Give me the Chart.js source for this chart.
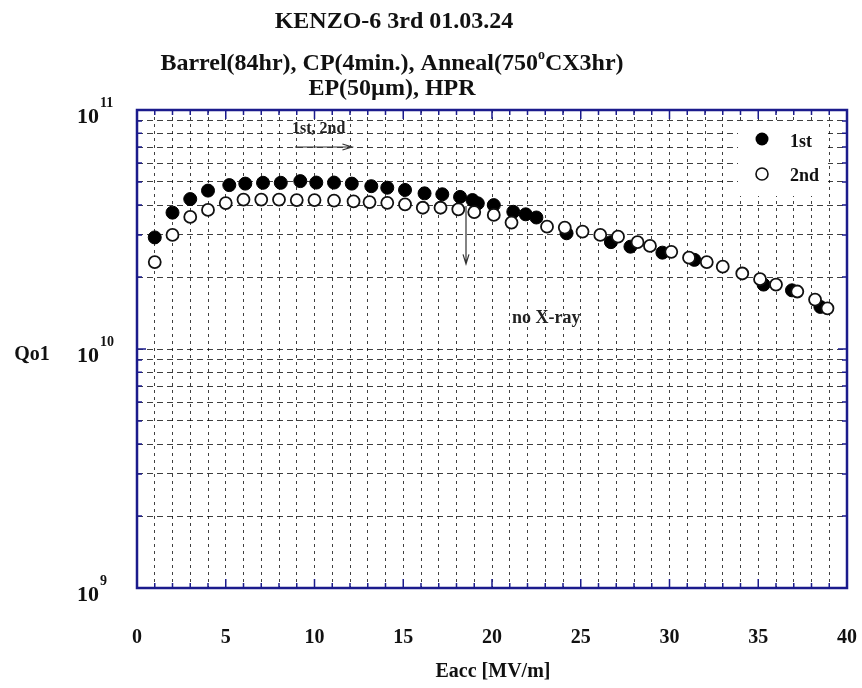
<!DOCTYPE html>
<html>
<head>
<meta charset="utf-8">
<script src="https://cdn.jsdelivr.net/npm/chart.js@4.4.1/dist/chart.umd.min.js"></script>
<style>
  html, body { margin: 0; padding: 0; background: #fff; }
  #wrap { width: 862px; height: 688px; }
</style>
</head>
<body>
<div id="wrap"><canvas id="qChart" width="862" height="688"></canvas></div>
<script>
// 1st test (filled)
const eacc1st = [1, 2, 3, 4, 5.2, 6.1, 7.1, 8.1, 9.2, 10.1, 11.1, 12.1, 13.2, 14.1, 15.1, 16.2, 17.2, 18.2, 18.9, 19.2,
  20.1, 21.2, 21.9, 22.5, 24.2, 26.7, 27.8, 29.6, 31.4, 35.3, 36.9, 38.5];
const q1st = [2.93e10, 3.72e10, 4.24e10, 4.6e10, 4.85e10, 4.92e10, 4.96e10, 4.96e10, 5.04e10, 4.97e10, 4.97e10, 4.92e10,
  4.8e10, 4.73e10, 4.63e10, 4.48e10, 4.44e10, 4.33e10, 4.2e10, 4.07e10,
  4.0e10, 3.75e10, 3.66e10, 3.55e10, 3.05e10, 2.8e10, 2.68e10, 2.53e10, 2.36e10, 1.86e10, 1.76e10, 1.5e10];

// 2nd test (open)
const eacc2nd = [1, 2, 3, 4, 5, 6, 7, 8, 9, 10, 11.1, 12.2, 13.1, 14.1, 15.1, 16.1, 17.1, 18.1, 19.0,
  20.1, 21.1, 23.1, 24.1, 25.1, 26.1, 27.1, 28.2, 28.9, 30.1, 31.1, 32.1, 33.0, 34.1, 35.1, 36.0, 37.2, 38.2, 38.9];
const q2nd = [2.31e10, 3.0e10, 3.57e10, 3.82e10, 4.08e10, 4.22e10, 4.22e10, 4.22e10, 4.2e10, 4.2e10, 4.18e10, 4.15e10,
  4.12e10, 4.09e10, 4.03e10, 3.9e10, 3.9e10, 3.84e10, 3.74e10,
  3.64e10, 3.38e10, 3.25e10, 3.22e10, 3.1e10, 3.0e10, 2.95e10, 2.8e10, 2.7e10, 2.55e10, 2.41e10, 2.31e10, 2.21e10,
  2.07e10, 1.96e10, 1.86e10, 1.74e10, 1.61e10, 1.48e10];

const xTickLabels = [0, 5, 10, 15, 20, 25, 30, 35, 40];
const yDecades = [1e9, 1e10, 1e11];
const yDecadeExp = ['9', '10', '11'];
const yMinorSteps = [1, 2, 3, 4, 5, 6, 7, 8, 9];

const serif = '"Liberation Serif", "DejaVu Serif", serif';
const frameColor = '#1b1b8c';

// all log grid values 1e9 ... 1e11
const yGridValues = [];
yDecades.slice(0, 2).forEach(d => yMinorSteps.forEach(s => yGridValues.push(d * s)));
yGridValues.push(1e11);

function toPoints(xs, ys) {
  return xs.map((x, i) => ({ x: x, y: ys[i] }));
}

// draw a line of text runs, some raised as superscript
function drawRuns(ctx, runs, cx, y, size) {
  let total = 0;
  runs.forEach(r => {
    ctx.font = `bold ${r.sup ? Math.round(size * 0.6) : size}px ${serif}`;
    r.w = ctx.measureText(r.t).width;
    total += r.w;
  });
  let x = cx - total / 2;
  ctx.textAlign = 'left';
  ctx.textBaseline = 'alphabetic';
  runs.forEach(r => {
    ctx.font = `bold ${r.sup ? Math.round(size * 0.6) : size}px ${serif}`;
    ctx.fillText(r.t, x, r.sup ? y - size * 0.45 : y);
    x += r.w;
  });
}

function arrow(ctx, x1, y1, x2, y2) {
  const a = Math.atan2(y2 - y1, x2 - x1);
  const len = 10, spread = 0.3;
  ctx.beginPath();
  ctx.moveTo(x1, y1);
  ctx.lineTo(x2, y2);
  ctx.moveTo(x2 - len * Math.cos(a - spread), y2 - len * Math.sin(a - spread));
  ctx.lineTo(x2, y2);
  ctx.lineTo(x2 - len * Math.cos(a + spread), y2 - len * Math.sin(a + spread));
  ctx.stroke();
}

const decorPlugin = {
  id: 'decor',
  afterDraw(chart) {
    const ctx = chart.ctx;
    const area = chart.chartArea;
    const xs = chart.scales.x;
    const ys = chart.scales.y;
    ctx.save();

    // legend box
    ctx.fillStyle = '#fff';
    ctx.fillRect(738, 124, 90, 72);
    ctx.fillStyle = '#000';
    ctx.beginPath();
    ctx.arc(762, 139, 6.5, 0, Math.PI * 2);
    ctx.fill();
    ctx.beginPath();
    ctx.arc(762, 174, 6, 0, Math.PI * 2);
    ctx.fillStyle = '#fff';
    ctx.fill();
    ctx.lineWidth = 1.6;
    ctx.strokeStyle = '#111';
    ctx.stroke();
    ctx.fillStyle = '#111';
    ctx.font = `bold 18px ${serif}`;
    ctx.textAlign = 'left';
    ctx.textBaseline = 'middle';
    ctx.fillText('1st', 790, 142);
    ctx.fillText('2nd', 790, 176);

    // frame
    ctx.strokeStyle = frameColor;
    ctx.lineWidth = 2.5;
    ctx.strokeRect(area.left, area.top, area.right - area.left, area.bottom - area.top);

    // inner ticks
    ctx.lineWidth = 1.5;
    ctx.beginPath();
    for (let v = 1; v < 40; v++) {
      const px = xs.getPixelForValue(v);
      const len = v % 5 === 0 ? 9 : 5;
      ctx.moveTo(px, area.bottom);
      ctx.lineTo(px, area.bottom - len);
      ctx.moveTo(px, area.top);
      ctx.lineTo(px, area.top + len);
    }
    yGridValues.forEach(v => {
      const py = ys.getPixelForValue(v);
      const len = yDecades.includes(v) ? 9 : 5;
      ctx.moveTo(area.left, py);
      ctx.lineTo(area.left + len, py);
      ctx.moveTo(area.right, py);
      ctx.lineTo(area.right - len, py);
    });
    ctx.stroke();

    ctx.fillStyle = '#111';
    // x tick labels
    ctx.font = `bold 20px ${serif}`;
    ctx.textAlign = 'center';
    ctx.textBaseline = 'middle';
    xTickLabels.forEach(v => {
      ctx.fillText(String(v), xs.getPixelForValue(v), area.bottom + 50);
    });

    // y decade labels 10^n
    yDecades.forEach((v, i) => {
      const py = ys.getPixelForValue(v);
      ctx.textAlign = 'left';
      ctx.textBaseline = 'alphabetic';
      ctx.font = `bold 22px ${serif}`;
      const bw = ctx.measureText('10').width;
      ctx.fillText('10', 99 - bw, py + 13);
      ctx.font = `bold 14px ${serif}`;
      ctx.fillText(yDecadeExp[i], 100, py - 3);
    });

    // axis titles
    ctx.font = `bold 20px ${serif}`;
    ctx.textAlign = 'center';
    ctx.textBaseline = 'middle';
    ctx.fillText('Eacc [MV/m]', 493, 672);
    ctx.fillText('Qo1', 32, 355);

    // titles
    drawRuns(ctx, [{ t: 'KENZO-6 3rd 01.03.24' }], 394, 28, 24);
    drawRuns(ctx, [{ t: 'Barrel(84hr), CP(4min.), Anneal(750' }, { t: 'o', sup: true }, { t: 'CX3hr)' }], 392, 70, 24);
    drawRuns(ctx, [{ t: 'EP(50\u00b5m), HPR' }], 392, 95, 24);

    // annotations
    ctx.strokeStyle = '#333';
    ctx.lineWidth = 1.2;
    arrow(ctx, 295, 147, 352, 147);
    arrow(ctx, 466, 206, 466, 264);
    ctx.fillStyle = '#222';
    ctx.font = `bold 16px ${serif}`;
    ctx.textAlign = 'left';
    ctx.textBaseline = 'middle';
    ctx.fillText('1st, 2nd', 292, 129);
    ctx.font = `bold 18px ${serif}`;
    ctx.fillText('no X-ray', 512, 318);

    ctx.restore();
  }
};

const ctx = document.getElementById('qChart').getContext('2d');
const qChart = new Chart(ctx, {
  type: 'scatter',
  data: {
    datasets: [
      {
        label: '1st',
        data: toPoints(eacc1st, q1st),
        pointStyle: 'circle',
        pointRadius: 6.5,
        backgroundColor: '#000',
        borderColor: '#000',
        borderWidth: 1,
        order: 2,
      },
      {
        label: '2nd',
        data: toPoints(eacc2nd, q2nd),
        pointStyle: 'circle',
        pointRadius: 6,
        backgroundColor: '#fff',
        borderColor: '#111',
        borderWidth: 1.8,
        order: 1,
      },
    ],
  },
  options: {
    responsive: false,
    animation: false,
    events: [],
    layout: { padding: { left: 137, right: 15, top: 110, bottom: 100 } },
    plugins: {
      legend: { display: false },
      tooltip: { enabled: false },
    },
    scales: {
      x: {
        type: 'linear',
        min: 0,
        max: 40,
        ticks: { stepSize: 1, display: false },
        grid: { color: 'rgba(0,0,0,0.75)', lineWidth: 1, drawTicks: false },
        border: { display: false, dash: [3, 4] },
      },
      y: {
        type: 'logarithmic',
        min: 1e9,
        max: 1e11,
        afterBuildTicks: (scale) => {
          scale.ticks = yGridValues.map(v => ({ value: v }));
        },
        ticks: { display: false },
        grid: { color: 'rgba(0,0,0,0.75)', lineWidth: 1, drawTicks: false },
        border: { display: false, dash: [6, 4] },
      },
    },
  },
  plugins: [decorPlugin],
});
</script>
</body>
</html>
